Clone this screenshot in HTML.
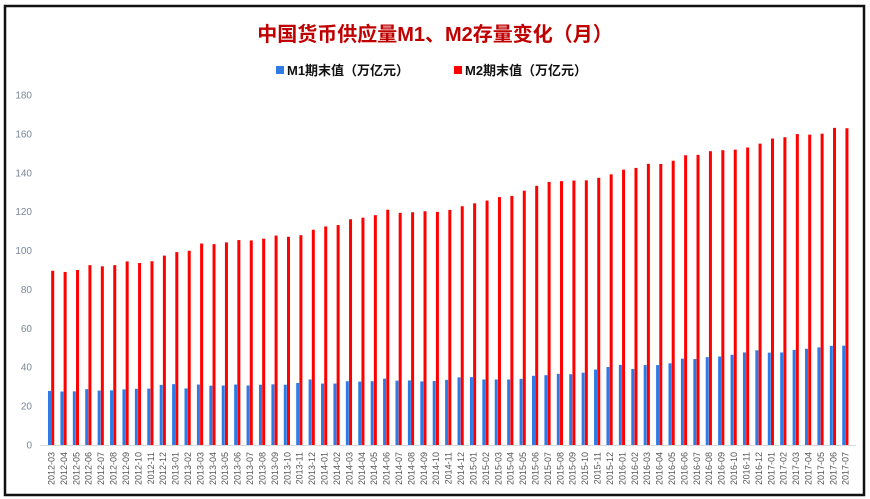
<!DOCTYPE html>
<html><head><meta charset="utf-8"><style>
html,body{margin:0;padding:0;background:#fff}
svg{display:block}
</style></head><body>
<svg id="s" width="870" height="499" xmlns="http://www.w3.org/2000/svg" font-family="Liberation Sans, Noto Sans CJK SC, sans-serif">
<rect x="0" y="0" width="870" height="499" fill="#fff"/>
<rect x="5" y="6" width="859" height="489" fill="none" stroke="#111" stroke-width="2.5"/>
<text x="435" y="41" text-anchor="middle" font-size="20" font-weight="bold" fill="#c00000" font-family="Liberation Sans, Noto Sans CJK SC, sans-serif">中国货币供应量M1、M2存量变化（月）</text>
<rect x="276" y="66" width="8" height="8" fill="#2e7be6"/>
<text x="287" y="75" font-size="13" font-weight="bold" fill="#111">M1期末值（万亿元）</text>
<rect x="454" y="66" width="8" height="8" fill="#ff0000"/>
<text x="465" y="75" font-size="13" font-weight="bold" fill="#111">M2期末值（万亿元）</text>
<line x1="40" y1="445.5" x2="856" y2="445.5" stroke="#d9d9d9" stroke-width="1"/>
<g id="g"></g>
</svg>
<script>
var m2=[89.6,89.0,90.0,92.5,91.9,92.5,94.4,93.6,94.5,97.4,99.2,99.9,103.6,103.3,104.2,105.4,105.2,106.1,107.7,107.1,107.9,110.7,112.4,113.1,116.1,116.9,118.2,121.0,119.4,119.7,120.2,119.9,120.9,122.8,124.3,125.7,127.5,128.1,130.8,133.3,135.3,135.7,136.0,136.1,137.4,139.2,141.6,142.5,144.6,144.5,146.2,149.0,149.2,151.1,151.6,151.9,153.0,155.0,157.6,158.3,159.9,159.6,160.1,163.1,162.9];
var m1=[27.8,27.5,27.6,28.7,28.0,28.1,28.6,28.9,29.0,30.9,31.3,29.1,31.1,30.5,30.6,31.1,30.6,31.0,31.2,31.0,31.9,33.7,31.6,31.6,32.8,32.6,32.8,34.1,33.1,33.2,32.7,32.9,33.5,34.8,34.9,33.7,33.7,33.7,34.0,35.6,35.9,36.6,36.4,37.2,38.8,40.1,41.2,39.1,41.1,41.1,42.0,44.4,44.2,45.2,45.5,46.4,47.6,48.7,47.5,47.6,48.9,49.5,50.2,51.0,51.1];
var g=document.getElementById('g'),h='';
var y0=445,k=350/180;
for(var v=0;v<=180;v+=20){h+='<text x="32" y="'+(y0-v*k+3.5)+'" text-anchor="end" font-size="10" fill="#7a8696">'+v+'</text>';}
var y=2012,m=3;
for(var i=0;i<65;i++){
 var x=48+i*12.41;
 h+='<rect x="'+x+'" y="'+(y0-m1[i]*k)+'" width="3" height="'+(m1[i]*k)+'" fill="#2e7be6"/>';
 h+='<rect x="'+(x+3.2)+'" y="'+(y0-m2[i]*k)+'" width="3" height="'+(m2[i]*k)+'" fill="#ff0000"/>';
 var lab=y+'-'+(m<10?'0'+m:m);
 var cx=x+6.5;
 h+='<text transform="translate('+cx+',452) rotate(-90)" text-anchor="end" font-size="9" fill="#555">'+lab+'</text>';
 m++;if(m>12){m=1;y++;}
}
g.innerHTML=h;
</script>
</body></html>
